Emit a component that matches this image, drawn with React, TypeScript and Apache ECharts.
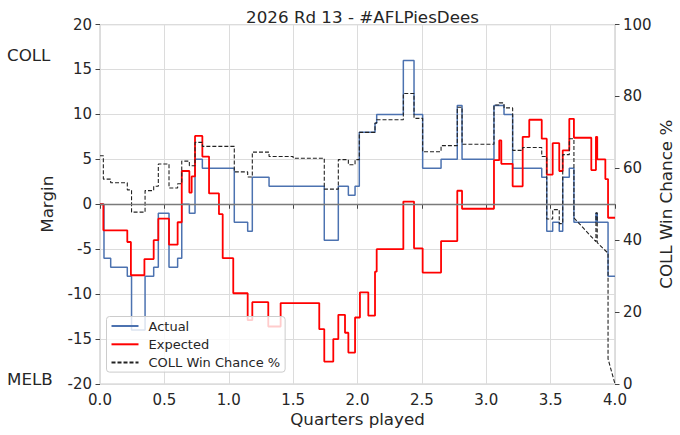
import { useEffect, useRef } from "react";
import * as echarts from "echarts";

// [quarters played, margin] — step changes, value holds until next point
const actual: [number, number][] = [
  [0, 0], [0.031, -6], [0.083, -7], [0.212, -8], [0.245, -14], [0.35, -8],
  [0.417, -7], [0.453, -1], [0.536, -7], [0.603, -6], [0.635, 0], [0.694, -1],
  [0.738, 5], [0.795, 4], [1.043, -2], [1.147, -3], [1.183, 3], [1.313, 2],
  [1.742, -4], [1.851, 2], [1.929, 1], [1.981, 2], [2.014, 8], [2.136, 9],
  [2.149, 10], [2.356, 16], [2.439, 10], [2.506, 4], [2.649, 5], [2.775, 11],
  [2.812, 5], [3.06, 11], [3.138, 10], [3.205, 4], [3.431, 3], [3.47, -3],
  [3.516, -2], [3.567, -3], [3.594, 3], [3.645, 4], [3.681, -2], [3.852, -1],
  [3.862, -2], [3.946, -8], [4.0, -8],
];

const expected: [number, number][] = [
  [0, 0], [0.026, -2.9], [0.212, -4.2], [0.24, -7.9], [0.345, -6.1], [0.417, -4.0],
  [0.453, -1.6], [0.536, -4.5], [0.603, -2.0], [0.635, 3.7], [0.694, 1.3], [0.712, 3.1],
  [0.738, 7.6], [0.795, 5.3], [0.847, 1.2], [0.924, -1.1], [0.953, -6.0], [1.035, -9.9],
  [1.147, -12.9], [1.183, -10.9], [1.307, -13.6], [1.403, -11.0], [1.703, -13.9],
  [1.742, -17.5], [1.812, -15.0], [1.851, -12.3], [1.903, -14.3], [1.929, -16.5],
  [1.981, -12.6], [2.019, -9.8], [2.084, -12.4], [2.136, -7.5], [2.149, -5.0],
  [2.356, 0.3], [2.439, -4.9], [2.506, -7.6], [2.649, -4.1], [2.775, 1.5], [2.812, -0.5],
  [3.06, 4.9], [3.101, 7.1], [3.117, 4.5], [3.205, 2.0], [3.283, 7.5], [3.334, 9.4],
  [3.431, 7.3], [3.47, 3.3], [3.516, 6.8], [3.567, 3.7], [3.594, 6.0], [3.645, 9.5],
  [3.681, 7.4], [3.816, 3.8], [3.852, 7.5], [3.862, 5.0], [3.925, 2.8], [3.946, -1.5],
  [4.0, -1.5],
];

// COLL win chance %, stepped part
const winChance: [number, number][] = [
  [0, 63.5], [0.026, 57], [0.083, 56], [0.212, 54], [0.245, 47.8], [0.35, 53.8],
  [0.417, 55], [0.453, 61.2], [0.536, 54.5], [0.603, 55.7], [0.635, 62], [0.694, 60.7],
  [0.738, 67.2], [0.795, 66.1], [1.043, 59], [1.147, 57.6], [1.183, 64.5], [1.313, 63.3],
  [1.5, 62.8], [1.742, 54.2], [1.851, 62.4], [1.929, 61], [1.981, 62.4], [2.014, 70],
  [2.136, 72.6], [2.149, 73.5], [2.356, 80.8], [2.439, 73.9], [2.506, 64.6], [2.649, 66.3],
  [2.775, 77], [2.812, 66.7], [3.06, 77.6], [3.101, 78.2], [3.138, 76.8], [3.205, 65],
  [3.283, 65.8], [3.431, 63.3], [3.47, 45.9], [3.516, 48.5], [3.567, 44.6], [3.594, 63.8],
  [3.645, 68.2], [3.681, 46.2],
];

// last minutes: win chance drifts continuously
const winTail: [number, number][] = [
  [3.681, 46.2], [3.852, 39.6], [3.852, 47.6], [3.862, 47.6], [3.862, 39.3],
  [3.946, 36.4], [3.946, 7], [4.0, 0],
];

const FONT = "DejaVu Sans";
const TXT = "#262626";

export default function App() {
  const ref = useRef<HTMLDivElement | null>(null);

  useEffect(() => {
    document.body.style.margin = "0";
    if (!ref.current) return;
    const chart = echarts.init(ref.current, undefined, { renderer: "svg" });

    const dashed = { width: 1.1, color: "#222", type: [4, 2] as number[] };

    const option: echarts.EChartsOption = {
      animation: false,
      backgroundColor: "#fff",
      textStyle: { fontFamily: FONT, color: TXT },
      title: {
        text: "2026 Rd 13 - #AFLPiesDees",
        left: 357.5,
        top: 3,
        textAlign: "center",
        textStyle: { fontFamily: FONT, fontSize: 16.7, fontWeight: "normal", color: TXT },
      },
      grid: {
        left: 100, right: 65, top: 24.5, bottom: 51,
        outerBoundsMode: "none",
        show: true, borderColor: "#cccccc", borderWidth: 1.25,
      } as any,
      legend: {
        orient: "vertical",
        left: 106.5,
        top: 316.5,
        data: ["Actual", "Expected", "COLL Win Chance %"],
        itemWidth: 27,
        itemHeight: 14,
        itemGap: 5.3,
        padding: [3, 5, 3, 4],
        backgroundColor: "rgba(255,255,255,0.8)",
        borderColor: "#cccccc",
        borderWidth: 1,
        borderRadius: 3,
        itemStyle: { opacity: 0 },
        textStyle: { fontFamily: FONT, fontSize: 13, color: TXT, padding: [0, 0, 0, 5] },
      },
      graphic: [
        { type: "text", x: 7, y: 55, style: { text: "COLL", fontFamily: FONT, fontSize: 16.7, fill: TXT, verticalAlign: "middle" } },
        { type: "text", x: 7, y: 379, style: { text: "MELB", fontFamily: FONT, fontSize: 16.7, fill: TXT, verticalAlign: "middle" } },
      ],
      xAxis: {
        type: "value",
        min: 0,
        max: 4,
        interval: 0.5,
        name: "Quarters played",
        nameLocation: "middle",
        nameGap: 26,
        nameMoveOverlap: false,
        nameTextStyle: { fontFamily: FONT, fontSize: 16.7, color: TXT },
        axisLine: { show: false },
        axisTick: { show: true, length: 4.5, lineStyle: { color: "#444" } },
        axisLabel: { fontFamily: FONT, fontSize: 15, color: TXT, margin: 8, formatter: (v: number) => v.toFixed(1) },
        splitLine: { show: true, lineStyle: { color: "#dcdcdc", width: 1 } },
      } as any,
      yAxis: [
        {
          type: "value",
          min: -20,
          max: 20,
          interval: 5,
          name: "Margin",
          nameLocation: "middle",
          nameRotate: 90,
          nameGap: 45,
          nameMoveOverlap: false,
          nameTextStyle: { fontFamily: FONT, fontSize: 16.7, color: TXT },
          axisLine: { show: false },
          axisTick: { show: true, length: 4.5, lineStyle: { color: "#444" } },
          axisLabel: { fontFamily: FONT, fontSize: 15, color: TXT, margin: 8 },
          splitLine: { show: true, lineStyle: { color: "#dcdcdc", width: 1 } },
        },
        {
          type: "value",
          position: "right",
          min: 0,
          max: 100,
          interval: 20,
          name: "COLL Win Chance %",
          nameLocation: "middle",
          nameRotate: 90,
          nameGap: 42,
          nameMoveOverlap: false,
          nameTextStyle: { fontFamily: FONT, fontSize: 16.7, color: TXT },
          axisLine: { show: false },
          axisTick: { show: true, length: 4.5, lineStyle: { color: "#444" } },
          axisLabel: { fontFamily: FONT, fontSize: 15, color: TXT, margin: 8 },
          splitLine: { show: false },
        },
      ] as any,
      series: [
        {
          type: "line",
          name: "Actual",
          data: actual,
          step: "end",
          symbol: "none",
          lineStyle: { width: 1.5, color: "#4c72b0" },
          itemStyle: { color: "#4c72b0" },
          markLine: {
            silent: true,
            symbol: "none",
            label: { show: false },
            lineStyle: { color: "#7a7a7a", width: 1.3, type: "solid" },
            data: [{ yAxis: 0 }],
          },
        },
        {
          type: "line",
          name: "Expected",
          data: expected,
          step: "end",
          symbol: "none",
          lineStyle: { width: 1.8, color: "#ff0000" },
          itemStyle: { color: "#ff0000" },
        },
        {
          type: "line",
          name: "COLL Win Chance %",
          yAxisIndex: 1,
          data: winChance,
          step: "end",
          symbol: "none",
          lineStyle: dashed,
          itemStyle: { color: "#222" },
        },
        {
          type: "line",
          name: "COLL Win Chance %",
          yAxisIndex: 1,
          data: winTail,
          symbol: "none",
          lineStyle: dashed,
          itemStyle: { color: "#222" },
        },
      ],
    };

    chart.setOption(option);
    return () => chart.dispose();
  }, []);

  return <div ref={ref} style={{ width: 680, height: 435 }} />;
}
